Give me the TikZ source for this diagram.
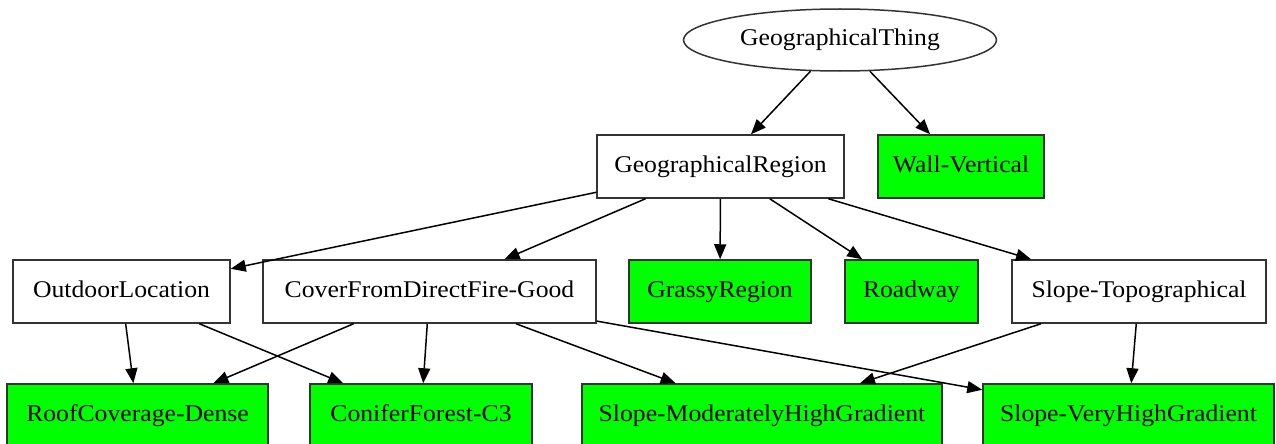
\documentclass[tikz,border=0pt]{standalone}
\usepackage{fontspec}
\usepackage{graphicx}
\setmainfont{Liberation Serif}
\usetikzlibrary{shapes.geometric,arrows.meta}
\newcommand{\lbl}[1]{\scalebox{1.07}[1]{#1}}
\definecolor{nodegreen}{HTML}{00FF00}
\begin{document}
\begin{tikzpicture}[x=1pt,y=-1pt,
  every node/.style={font=\fontsize{24}{28}\selectfont, inner sep=0pt, text height=16pt, text depth=5pt, draw=black!80, line width=1.5pt},
  plainbox/.style={rectangle, fill=white, minimum height=63pt},
  greenbox/.style={rectangle, fill=nodegreen, minimum height=63pt},
  oval/.style={ellipse, fill=white, minimum width=313pt, minimum height=62pt},
  edge/.style={draw=black, line width=1.5pt, -{Triangle[length=15pt,width=12pt]}}]
\useasboundingbox (0,0) rectangle (1276,444);
\fill[white] (0,0) rectangle (1276,444);
% row 0
\node[oval] (gt) at (840,40) {\lbl{GeographicalThing}};
% row 1
\node[plainbox, minimum width=247pt] (gr) at (720.5,166.5) {\lbl{GeographicalRegion}};
\node[greenbox, minimum width=166pt] (wall) at (961,166.5) {\lbl{Wall-Vertical}};
% row 2
\node[plainbox, minimum width=217pt] (out) at (121.5,291.5) {\lbl{OutdoorLocation}};
\node[plainbox, minimum width=333pt] (cover) at (429.5,291.5) {\lbl{CoverFromDirectFire-Good}};
\node[greenbox, minimum width=182pt] (grassy) at (720,291.5) {\lbl{GrassyRegion}};
\node[greenbox, minimum width=133pt] (road) at (911.5,291.5) {\lbl{Roadway}};
\node[plainbox, minimum width=254pt] (stopo) at (1139,291.5) {\lbl{Slope-Topographical}};
% row 3
\node[greenbox, minimum width=261pt] (roof) at (137.5,415.5) {\lbl{RoofCoverage-Dense}};
\node[greenbox, minimum width=222pt] (conifer) at (421,415.5) {\lbl{ConiferForest-C3}};
\node[greenbox, minimum width=360pt] (smod) at (762,415.5) {\lbl{Slope-ModeratelyHighGradient}};
\node[greenbox, minimum width=291pt] (svery) at (1128.5,415.5) {\lbl{Slope-VeryHighGradient}};
% edges
\draw[edge] (gt) -- (gr);
\draw[edge] (gt) -- (wall);
\draw[edge] (gr) -- (out);
\draw[edge] (gr) -- (cover);
\draw[edge] (gr) -- (grassy);
\draw[edge] (gr) -- (road);
\draw[edge] (gr) -- (stopo);
\draw[edge] (out) -- (roof);
\draw[edge] (out) -- (conifer);
\draw[edge] (cover) -- (roof);
\draw[edge] (cover) -- (conifer);
\draw[edge] (cover) -- (smod);
\draw[edge] (cover) -- (svery);
\draw[edge] (stopo) -- (smod);
\draw[edge] (stopo) -- (svery);
\end{tikzpicture}
\end{document}
